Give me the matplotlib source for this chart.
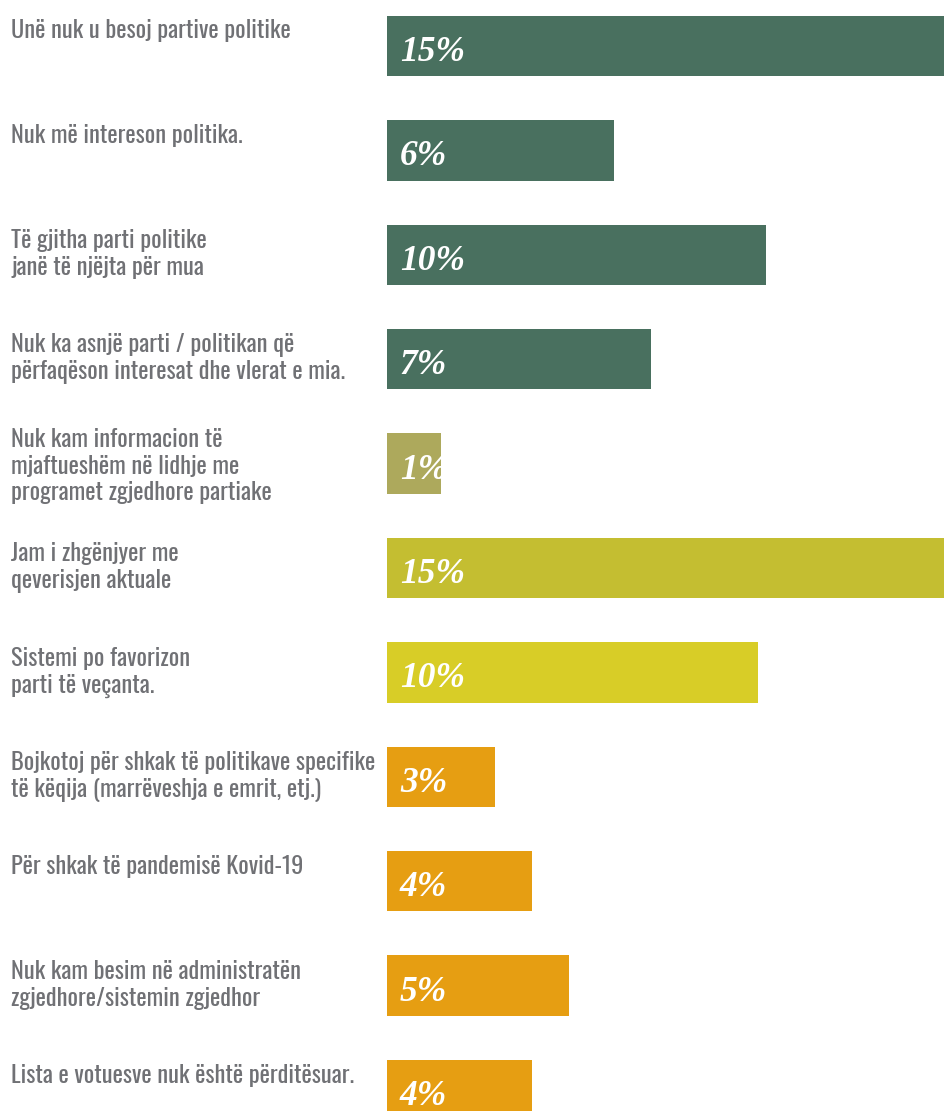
import matplotlib
matplotlib.use("Agg")
import matplotlib.pyplot as plt

# -------------------------------------------------------------------
# Datos
# -------------------------------------------------------------------
labels = [
    "Unë nuk u besoj partive politike",
    "Nuk më intereson politika.",
    "Të gjitha parti politike\njanë të njëjta për mua",
    "Nuk ka asnjë parti / politikan që\npërfaqëson interesat dhe vlerat e mia.",
    "Nuk kam informacion të\nmjaftueshëm në lidhje me\nprogramet zgjedhore partiake",
    "Jam i zhgënjyer me\nqeverisjen aktuale",
    "Sistemi po favorizon\nparti të veçanta.",
    "Bojkotoj për shkak të politikave specifike\ntë këqija (marrëveshja e emrit, etj.)",
    "Për shkak të pandemisë Kovid-19",
    "Nuk kam besim në administratën\nzgjedhore/sistemin zgjedhor",
    "Lista e votuesve nuk është përditësuar.",
]
values = [15.0, 6.1, 10.2, 7.1, 1.45, 15.0, 10.0, 2.9, 3.9, 4.9, 3.9]
pct_text = ["15%", "6%", "10%", "7%", "1%", "15%", "10%", "3%", "4%", "5%", "4%"]
colors = ["#49705F", "#49705F", "#49705F", "#49705F", "#ADA95C",
          "#C4BE31", "#D8CD27", "#E69E12", "#E69E12", "#E69E12", "#E69E12"]

# -------------------------------------------------------------------
# Figura
# -------------------------------------------------------------------
W, H = 944, 1111
X0 = 387            # borde izquierdo de las barras (px)
ROW = 104.4         # separación entre filas (px)
LH = 27.5           # interlineado de las etiquetas (px)

fig = plt.figure(figsize=(W / 100, H / 100), dpi=100)
ax = fig.add_axes([X0 / W, 0, 1 - X0 / W, 1])

y = list(range(len(values)))
ax.barh(y, values, height=0.58, color=colors)
ax.set_xlim(0, 15.0)
ax.set_ylim((H - 46) / ROW, -46 / ROW)
ax.axis('off')

px_x = 15.0 / (W - X0)   # unidades de datos por px en x
lab_font = ['Oswald', 'DejaVu Sans']
val_font = ['Liberation Serif', 'DejaVu Serif']

for i, (lab, p) in enumerate(zip(labels, pct_text)):
    nlines = lab.count("\n") + 1
    # va='baseline' alinea la última línea -> bajamos según nº de líneas
    shift = -7.5 - (11 if nlines >= 3 else 0) + (nlines - 1) * LH
    ax.text(-(X0 - 11) * px_x, i + shift / ROW, lab, va='baseline', ha='left',
            fontsize=17.6, color='#707175', linespacing=1.185,
            family=lab_font, clip_on=False)
    ax.text(13 * px_x, i + 15 / ROW, p, va='baseline', ha='left', color='white',
            fontsize=25.5, fontweight='bold', fontstyle='italic', family=val_font)

fig.savefig("out.png", dpi=100)
